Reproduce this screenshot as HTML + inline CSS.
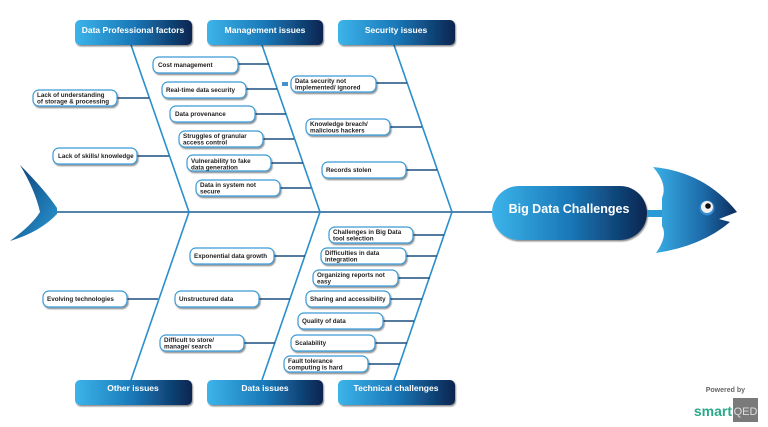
<!DOCTYPE html>
<html><head><style>
html,body{margin:0;padding:0;background:#fff;}
svg{display:block;}
.h{font-family:"Liberation Sans",sans-serif;font-weight:bold;font-size:8.5px;fill:#fff;}
.t{font-family:"Liberation Sans",sans-serif;font-weight:bold;font-size:6.3px;fill:#222;}
</style></head><body>
<svg width="768" height="427" viewBox="0 0 768 427" xmlns="http://www.w3.org/2000/svg">
<defs>
<linearGradient id="g" x1="0" x2="1" y1="0" y2="0"><stop offset="0" stop-color="#3cb4ea"/><stop offset="0.5" stop-color="#1a78b8"/><stop offset="1" stop-color="#0a2550"/></linearGradient>
<linearGradient id="gf" x1="0" x2="1" y1="0" y2="0"><stop offset="0" stop-color="#3ab0e8"/><stop offset="0.6" stop-color="#1c6aa8"/><stop offset="1" stop-color="#0c2c5c"/></linearGradient>
<linearGradient id="gt" x1="0" x2="1" y1="0" y2="1"><stop offset="0" stop-color="#0c3a70"/><stop offset="1" stop-color="#2a9ad6"/></linearGradient>
<filter id="s" x="-10%" y="-20%" width="130%" height="160%"><feDropShadow dx="1" dy="1.5" stdDeviation="0.8" flood-color="#000" flood-opacity="0.45"/></filter>
</defs>
<!-- tail -->
<path d="M20,165 Q45,190 57,208 L57,214 Q40,232 10,241 Q32,225 40,212 Q35,190 20,165 Z" fill="url(#gt)"/>
<!-- spine -->
<line x1="57" y1="212" x2="495" y2="212" stroke="#1a5a8e" stroke-width="1.6"/>
<g stroke="#2a8fcc" stroke-width="1.6" fill="none">
<line x1="131" y1="45" x2="189" y2="212"/>
<line x1="262" y1="45" x2="320" y2="212"/>
<line x1="394" y1="45" x2="452" y2="212"/>
<line x1="189" y1="212" x2="131" y2="380"/>
<line x1="320" y1="212" x2="262" y2="380"/>
<line x1="452" y1="212" x2="394" y2="380"/>
</g>
<!-- branch lines -->
<g stroke="#1d4f80" stroke-width="1.6">
<line x1="117" y1="98" x2="149" y2="98"/>
<line x1="137" y1="156" x2="169" y2="156"/>
<line x1="238" y1="64" x2="269" y2="64"/>
<line x1="246" y1="89" x2="277" y2="89"/>
<line x1="255" y1="114" x2="286" y2="114"/>
<line x1="263" y1="139" x2="294" y2="139"/>
<line x1="271" y1="163" x2="303" y2="163"/>
<line x1="280" y1="188" x2="311" y2="188"/>
<line x1="376" y1="83" x2="407" y2="83"/>
<line x1="390" y1="127" x2="422" y2="127"/>
<line x1="406" y1="170" x2="437" y2="170"/>
<line x1="127" y1="299" x2="158" y2="299"/>
<line x1="274" y1="256" x2="305" y2="256"/>
<line x1="259" y1="299" x2="290" y2="299"/>
<line x1="244" y1="343" x2="275" y2="343"/>
<line x1="413" y1="235" x2="444" y2="235"/>
<line x1="406" y1="256" x2="437" y2="256"/>
<line x1="398" y1="278" x2="430" y2="278"/>
<line x1="390" y1="299" x2="422" y2="299"/>
<line x1="383" y1="321" x2="414" y2="321"/>
<line x1="375" y1="343" x2="407" y2="343"/>
<line x1="368" y1="364" x2="400" y2="364"/>
</g>
<!-- headers -->
<g filter="url(#s)">
<rect x="75" y="20" width="117" height="25" rx="5" fill="url(#g)"/>
<rect x="207" y="20" width="116" height="25" rx="5" fill="url(#g)"/>
<rect x="338" y="20" width="117" height="25" rx="5" fill="url(#g)"/>
<rect x="75" y="380" width="117" height="25" rx="5" fill="url(#g)"/>
<rect x="207" y="380" width="116" height="25" rx="5" fill="url(#g)"/>
<rect x="338" y="380" width="117" height="25" rx="5" fill="url(#g)"/>
<rect x="492" y="186" width="155" height="54" rx="27" fill="url(#g)"/>
</g>
<text class="h" x="133" y="33" text-anchor="middle">Data Professional factors</text>
<text class="h" x="265" y="33" text-anchor="middle">Management issues</text>
<text class="h" x="396" y="33" text-anchor="middle">Security issues</text>
<text class="h" x="133" y="391" text-anchor="middle">Other issues</text>
<text class="h" x="265" y="391" text-anchor="middle">Data issues</text>
<text class="h" x="396" y="391" text-anchor="middle">Technical challenges</text>
<text x="569" y="213" text-anchor="middle" style="font-family:'Liberation Sans',sans-serif;font-weight:bold;font-size:12.5px;fill:#fff">Big Data Challenges</text>
<!-- fish head -->
<rect x="647" y="210" width="15" height="7" fill="#2a9ad6"/>
<path d="M653,167 Q705,172 737,212 L719,219 L730,222 Q702,246 656,253 Q668,236 662,226 L662,198 Q668,184 653,167 Z" fill="url(#gf)"/>
<circle cx="707" cy="208" r="7.5" fill="#3a8ad0"/>
<circle cx="707" cy="207" r="6" fill="#f2f2f2"/>
<circle cx="708" cy="206" r="2.8" fill="#111"/>
<!-- item boxes -->
<g fill="#fff" stroke="#3a9ad6" stroke-width="1.2" filter="url(#s)">
<rect x="33" y="90" width="84" height="16" rx="6"/>
<rect x="53" y="148" width="84" height="16" rx="6"/>
<rect x="153" y="57" width="85" height="16" rx="6"/>
<rect x="162" y="82" width="84" height="16" rx="6"/>
<rect x="170" y="106" width="85" height="16" rx="6"/>
<rect x="179" y="131" width="84" height="16" rx="6"/>
<rect x="187" y="155" width="84" height="16" rx="6"/>
<rect x="196" y="180" width="84" height="16" rx="6"/>
<rect x="291" y="76" width="85" height="16" rx="6"/>
<rect x="306" y="119" width="84" height="16" rx="6"/>
<rect x="322" y="162" width="84" height="16" rx="6"/>
<rect x="43" y="291" width="84" height="16" rx="6"/>
<rect x="190" y="248" width="84" height="16" rx="6"/>
<rect x="175" y="291" width="84" height="16" rx="6"/>
<rect x="160" y="335" width="84" height="16" rx="6"/>
<rect x="329" y="227" width="84" height="16" rx="6"/>
<rect x="321" y="248" width="85" height="16" rx="6"/>
<rect x="313" y="270" width="85" height="16" rx="6"/>
<rect x="306" y="291" width="84" height="16" rx="6"/>
<rect x="298" y="313" width="85" height="16" rx="6"/>
<rect x="291" y="335" width="84" height="16" rx="6"/>
<rect x="284" y="356" width="84" height="16" rx="6"/>
</g>
<rect x="282" y="82" width="6" height="4" fill="#4a90c8"/>
<g class="t">
<text class="t" x="37" y="97">Lack of understanding</text><text class="t" x="37" y="103.5">of storage &amp; processing</text>
<text class="t" x="58" y="158">Lack of skills/ knowledge</text>
<text class="t" x="158" y="67">Cost management</text>
<text class="t" x="166" y="92">Real-time data security</text>
<text class="t" x="175" y="116">Data provenance</text>
<text class="t" x="183" y="138">Struggles of granular</text><text class="t" x="183" y="144.5">access control</text>
<text class="t" x="191" y="163">Vulnerability to fake</text><text class="t" x="191" y="169.5">data generation</text>
<text class="t" x="200" y="187">Data in system not</text><text class="t" x="200" y="193.5">secure</text>
<text class="t" x="295" y="83">Data security not</text><text class="t" x="295" y="89.5">implemented/ ignored</text>
<text class="t" x="310" y="126">Knowledge breach/</text><text class="t" x="310" y="132.5">malicious hackers</text>
<text class="t" x="326" y="172">Records stolen</text>
<text class="t" x="47" y="301">Evolving technologies</text>
<text class="t" x="194" y="258">Exponential data growth</text>
<text class="t" x="179" y="301">Unstructured data</text>
<text class="t" x="164" y="342">Difficult to store/</text><text class="t" x="164" y="348.5">manage/ search</text>
<text class="t" x="333" y="234">Challenges in Big Data</text><text class="t" x="333" y="240.5">tool selection</text>
<text class="t" x="325" y="255">Difficulties in data</text><text class="t" x="325" y="261.5">integration</text>
<text class="t" x="317" y="277">Organizing reports not</text><text class="t" x="317" y="283.5">easy</text>
<text class="t" x="310" y="301">Sharing and accessibility</text>
<text class="t" x="302" y="323">Quality of data</text>
<text class="t" x="295" y="345">Scalability</text>
<text class="t" x="288" y="363">Fault tolerance</text><text class="t" x="288" y="369.5">computing is hard</text>
</g>
<!-- logo -->
<text x="745" y="392" text-anchor="end" style="font-family:'Liberation Sans',sans-serif;font-weight:bold;font-size:7px;fill:#666">Powered by</text>
<text x="732" y="416" text-anchor="end" style="font-family:'Liberation Sans',sans-serif;font-weight:bold;font-size:14px;fill:#2aa98a">smart</text>
<rect x="733" y="398" width="25" height="24" fill="#7a7a7a"/>
<text x="745.5" y="415" text-anchor="middle" style="font-family:'Liberation Sans',sans-serif;font-size:11px;fill:#ddd">QED</text>
</svg>
</body></html>
